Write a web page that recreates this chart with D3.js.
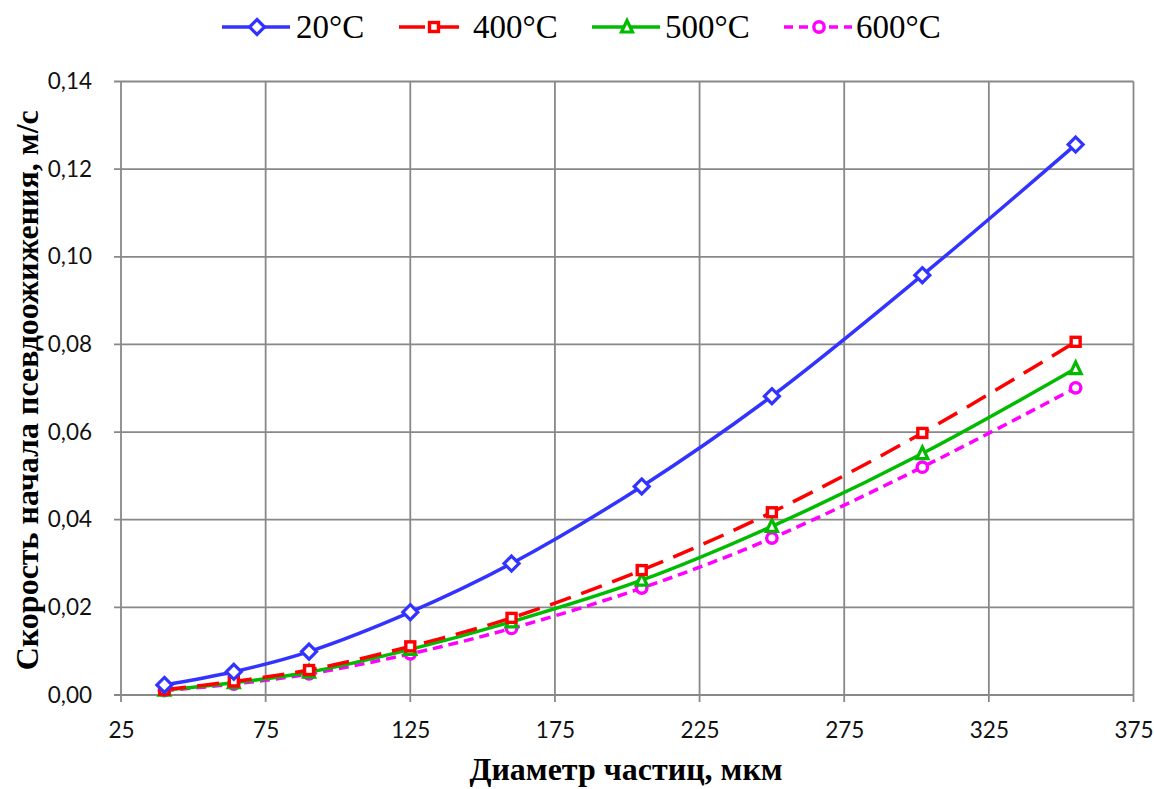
<!DOCTYPE html>
<html>
<head>
<meta charset="utf-8">
<script src="https://cdn.jsdelivr.net/npm/d3@7/dist/d3.min.js"></script>
<style>
  html, body { margin: 0; padding: 0; background: #fff; }
  svg { display: block; }
</style>
</head>
<body>
<svg id="chart" width="1154" height="789"></svg>
<script>
// Particle diameter, µm
const diameters = [40, 64, 90, 125, 160, 205, 250, 302, 355];

// Minimum fluidization velocity, m/s, per bed temperature
const v20  = [0.0023, 0.0053, 0.0099, 0.0189, 0.0300, 0.0476, 0.0682, 0.0958, 0.1256];
const v400 = [0.0012, 0.0031, 0.0057, 0.0111, 0.0176, 0.0285, 0.0417, 0.0598, 0.0806];
const v500 = [0.0011, 0.0028, 0.0052, 0.0104, 0.0167, 0.0262, 0.0385, 0.0551, 0.0745];
const v600 = [0.0010, 0.0025, 0.0048, 0.0094, 0.0152, 0.0244, 0.0358, 0.0520, 0.0701];

const seriesNames = ["20°C", "400°C", "500°C", "600°C"];
const xTicks = [25, 75, 125, 175, 225, 275, 325, 375];
const yTicks = [0, 0.02, 0.04, 0.06, 0.08, 0.10, 0.12, 0.14];

const series = [
  { name: seriesNames[0], values: v20,  color: "#3333ff", dash: null,    marker: "diamond" },
  { name: seriesNames[1], values: v400, color: "#ff0000", dash: "22,11", marker: "square" },
  { name: seriesNames[2], values: v500, color: "#00bb00", dash: null,    marker: "triangle" },
  { name: seriesNames[3], values: v600, color: "#ff00ff", dash: "10,6",  marker: "circle" }
];

const svg = d3.select("#chart");
const plotLeft = 121, plotRight = 1133.5, plotTop = 81.5, plotBottom = 695;

const x = d3.scaleLinear().domain([25, 375]).range([plotLeft, plotRight]);
const y = d3.scaleLinear().domain([0, 0.14]).range([plotBottom, plotTop]);

const gridColor = "#888888";
const fmtY = v => d3.format(".2f")(v).replace(".", ",");

// Grid
svg.append("g").selectAll("line").data(xTicks).join("line")
  .attr("x1", d => x(d)).attr("x2", d => x(d))
  .attr("y1", plotTop).attr("y2", plotBottom + 7)
  .attr("stroke", gridColor).attr("stroke-width", 1.8);
svg.append("g").selectAll("line").data(yTicks).join("line")
  .attr("x1", plotLeft - 7).attr("x2", plotRight)
  .attr("y1", d => y(d)).attr("y2", d => y(d))
  .attr("stroke", gridColor).attr("stroke-width", 1.8);

// Axes (labels only; grid supplies the tick lines)
const xAxis = d3.axisBottom(x).tickValues(xTicks).tickSize(0).tickPadding(27);
svg.append("g").attr("transform", `translate(0,${plotBottom})`).call(xAxis)
  .call(g => g.select(".domain").remove())
  .selectAll("text")
  .attr("font-family", "Lato, 'Open Sans', sans-serif").attr("font-size", 22.5).attr("fill", "#111");

const yAxis = d3.axisLeft(y).tickValues(yTicks).tickFormat(fmtY).tickSize(0).tickPadding(29);
svg.append("g").attr("transform", `translate(${plotLeft},0)`).call(yAxis)
  .call(g => g.select(".domain").remove())
  .selectAll("text")
  .attr("font-family", "Lato, 'Open Sans', sans-serif").attr("font-size", 22.5).attr("fill", "#111");

// Axis titles
svg.append("text")
  .attr("x", 626).attr("y", 780)
  .attr("text-anchor", "middle")
  .attr("font-family", "'Liberation Serif', 'Times New Roman', serif")
  .attr("font-weight", "bold").attr("font-size", 32)
  .text("Диаметр частиц, мкм");

svg.append("text")
  .attr("transform", `translate(38,${(plotTop + plotBottom) / 2 + 2}) rotate(-90)`)
  .attr("text-anchor", "middle")
  .attr("font-family", "'Liberation Serif', 'Times New Roman', serif")
  .attr("font-weight", "bold").attr("font-size", 32)
  .text("Скорость начала псевдоожижения, м/с");

// Marker shapes
function drawMarker(g, type, cx, cy, color) {
  if (type === "diamond") {
    g.append("path").attr("d", `M${cx},${cy - 7.5}L${cx + 7.5},${cy}L${cx},${cy + 7.5}L${cx - 7.5},${cy}Z`)
      .attr("fill", "#fff").attr("stroke", color).attr("stroke-width", 3.2);
  } else if (type === "square") {
    g.append("rect").attr("x", cx - 4.5).attr("y", cy - 4.5).attr("width", 9).attr("height", 9)
      .attr("fill", "#fff").attr("stroke", color).attr("stroke-width", 3.4);
  } else if (type === "triangle") {
    g.append("path").attr("d", `M${cx},${cy - 6.5}L${cx + 5.5},${cy + 5}L${cx - 5.5},${cy + 5}Z`)
      .attr("fill", "#fff").attr("stroke", color).attr("stroke-width", 3.2);
  } else {
    g.append("circle").attr("cx", cx).attr("cy", cy).attr("r", 5.2)
      .attr("fill", "#fff").attr("stroke", color).attr("stroke-width", 3.4);
  }
}

// Smoothed series lines with markers
const line = d3.line()
  .x(d => x(d[0])).y(d => y(d[1]))
  .curve(d3.curveCatmullRom.alpha(0.5));

series.slice().reverse().forEach(s => {
  const pts = diameters.map((d, i) => [d, s.values[i]]);
  const g = svg.append("g");
  g.append("path").datum(pts).attr("d", line)
    .attr("fill", "none").attr("stroke", s.color).attr("stroke-width", 3.5)
    .attr("stroke-dasharray", s.dash);
  pts.forEach(p => drawMarker(g, s.marker, x(p[0]), y(p[1]), s.color));
});

// Legend
const legendItems = [
  { lx: 222, tx: 296 },
  { lx: 399, tx: 473 },
  { lx: 592, tx: 665 },
  { lx: 784, tx: 856 }
];
const ly = 27;
series.forEach((s, i) => {
  const it = legendItems[i];
  const g = svg.append("g");
  g.append("line").attr("x1", it.lx).attr("x2", it.lx + 68).attr("y1", ly).attr("y2", ly)
    .attr("stroke", s.color).attr("stroke-width", 3.5)
    .attr("stroke-dasharray", s.dash ? (i === 1 ? "26,8" : "9,6") : null);
  drawMarker(g, s.marker, it.lx + 35, ly, s.color);
  g.append("text").attr("x", it.tx).attr("y", ly + 11)
    .attr("font-family", "'Liberation Serif', 'Times New Roman', serif")
    .attr("font-size", 33).attr("fill", "#000")
    .text(s.name);
});
</script>
</body>
</html>
